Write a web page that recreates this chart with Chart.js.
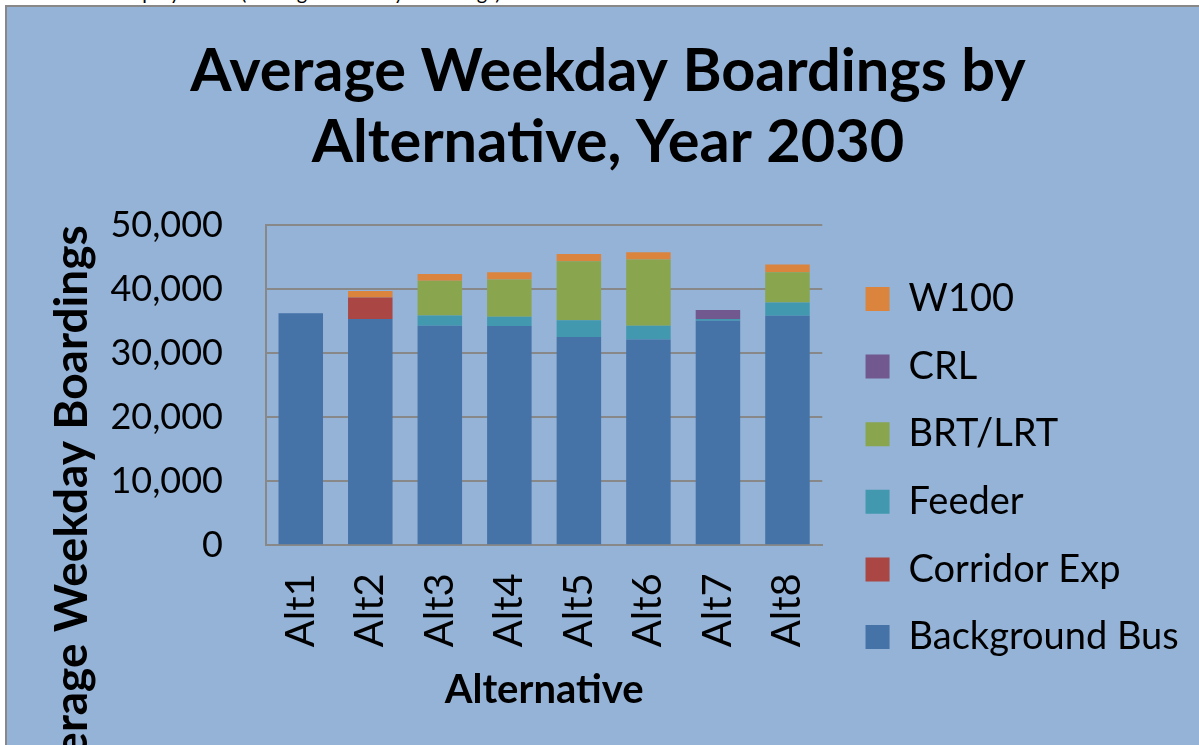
<!DOCTYPE html>
<html>
<head>
<meta charset="utf-8">
<title>Average Weekday Boardings by Alternative, Year 2030</title>
<script src="https://cdn.jsdelivr.net/npm/chart.js"></script>
<style>
  html, body { margin: 0; padding: 0; background: #fff; overflow: hidden; width: 1199px; height: 745px; }
  #caption { position: absolute; left: 8px; top: -18px; font: 20px Lato, sans-serif; line-height: 20px; color: #000; white-space: nowrap; }
  #frame { position: absolute; left: 5px; top: 5px; width: 1300px; height: 1000px;
           border-top: 2px solid #888; border-left: 2px solid #888; background: #95b3d7; }
  #wrap { position: absolute; left: 7px; top: 7px; width: 1192px; height: 922px; }
</style>
</head>
<body>
<div id="caption">Transit Ridership by Mode (Average Weekday Boardings) - Year 2030</div>
<div id="frame"></div>
<div id="wrap"><canvas id="chart"></canvas></div>
<script>
// boardings per alternative, split by service type
const alternatives = ['Alt1', 'Alt2', 'Alt3', 'Alt4', 'Alt5', 'Alt6', 'Alt7', 'Alt8'];
const backgroundBus = [36250, 35350, 34300, 34250, 32550, 32150, 35100, 35850];
const corridorExp   = [0, 3390, 0, 0, 0, 0, 0, 0];
const feeder        = [0, 0, 1600, 1450, 2600, 2150, 250, 2080];
const brtLrt        = [0, 0, 5450, 5850, 9250, 10350, 0, 4750];
const crl           = [0, 0, 0, 0, 0, 0, 1420, 0];
const w100          = [0, 980, 1050, 1100, 1100, 1150, 0, 1180];
const yTicks = { min: 0, max: 50000, step: 10000 };

Chart.defaults.font.family = 'Lato, "Open Sans", sans-serif';
Chart.defaults.color = '#000';

const series = [
  { label: 'Background Bus', data: backgroundBus, color: '#4572a7' },
  { label: 'Corridor Exp',   data: corridorExp,   color: '#aa4643' },
  { label: 'Feeder',         data: feeder,        color: '#4198af' },
  { label: 'BRT/LRT',        data: brtLrt,        color: '#89a54e' },
  { label: 'CRL',            data: crl,           color: '#71588f' },
  { label: 'W100',           data: w100,          color: '#db843d' }
];

const gridColor = '#888888';

new Chart(document.getElementById('chart'), {
  type: 'bar',
  data: {
    labels: alternatives,
    datasets: series.map(s => ({
      label: s.label,
      data: s.data,
      backgroundColor: s.color,
      borderWidth: 0,
      barPercentage: 0.64,
      categoryPercentage: 1.0
    }))
  },
  options: {
    responsive: true,
    maintainAspectRatio: false,
    animation: false,
    layout: { padding: { left: 20.3, right: 10.3, top: 0, bottom: 0 } },
    plugins: {
      title: {
        display: true,
        text: ['Average Weekday Boardings by', 'Alternative, Year 2030'],
        color: '#000',
        font: { size: 59.5, weight: 'bold', lineHeight: 1.18 },
        padding: { top: 30, bottom: 47.9 }
      },
      legend: {
        position: 'right',
        reverse: true,
        maxWidth: 420,
        labels: {
          boxWidth: 24,
          boxHeight: 24,
          padding: 29.6,
          color: '#000',
          font: { size: 38 }
        }
      },
      tooltip: { enabled: false }
    },
    scales: {
      x: {
        stacked: true,
        grid: { display: false },
        border: { display: true, color: gridColor, width: 2 },
        ticks: { color: '#000', font: { size: 40 }, minRotation: 90, maxRotation: 90, padding: 20 },
        title: {
          display: true,
          text: 'Alternative',
          color: '#000',
          font: { size: 40, weight: 'bold', lineHeight: 1.2 },
          padding: { top: 0, bottom: 215 }
        },
        afterFit: s => { s.height = 383.7; }
      },
      y: {
        stacked: true,
        min: yTicks.min,
        max: yTicks.max,
        grid: { color: gridColor, lineWidth: 2, drawTicks: false },
        border: { display: true, color: gridColor, width: 2 },
        ticks: { stepSize: yTicks.step, color: '#000', font: { size: 36 }, padding: 43 },
        title: {
          display: true,
          text: 'Average Weekday Boardings',
          align: 'end',
          color: '#000',
          font: { size: 46, weight: 'bold', lineHeight: 1 },
          padding: { top: 21.7, bottom: 0 }
        },
        afterFit: s => { s.width = 238.7; }
      },
      // empty strip between plot and legend
      gap: {
        type: 'linear',
        position: 'right',
        display: true,
        grid: { display: false },
        border: { display: false },
        ticks: { display: false },
        afterFit: s => { s.width = 13.7; }
      }
    }
  }
});
</script>
</body>
</html>
